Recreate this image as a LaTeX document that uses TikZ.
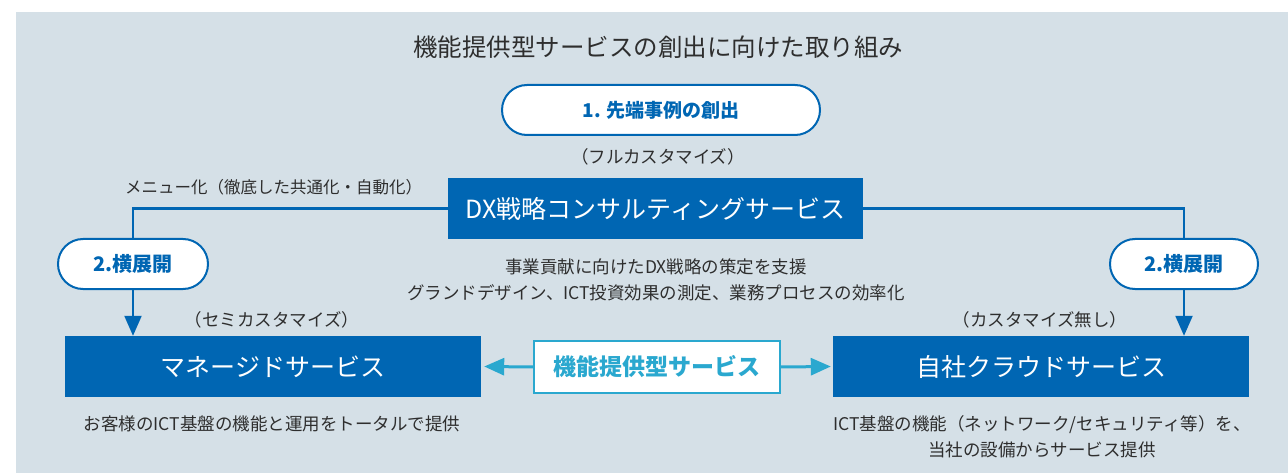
\documentclass[tikz,border=0pt]{standalone}
\usepackage{fontspec}
\setmainfont{Noto Sans CJK JP}
\usetikzlibrary{arrows.meta}
\definecolor{bgc}{HTML}{D5E0E7}
\definecolor{dblue}{HTML}{0066B3}
\definecolor{cyanc}{HTML}{2AA8CF}
\definecolor{txt}{HTML}{2E2E2E}
\tikzset{
  bluebox/.style={fill=dblue, draw=none, text=white, minimum height=61pt, inner sep=0pt, font=\fontsize{25}{28}\selectfont},
  pill/.style={fill=white, draw=dblue, line width=2pt, rounded corners=25pt, text=dblue, inner sep=0pt, minimum height=50pt, font=\fontsize{19}{22}\selectfont\bfseries},
  note/.style={text=txt, inner sep=0pt, align=center, font=\fontsize{17.5}{26}\selectfont},
  conn/.style={draw=dblue, line width=2.2pt},
  tip/.style={-{Triangle[width=17pt,length=20pt]}},
  cconn/.style={draw=cyanc, line width=3pt, -{Triangle[width=17pt,length=20pt]}}
}
\begin{document}
\begin{tikzpicture}[x=1pt,y=-1pt]
\useasboundingbox (0,0) rectangle (1288,473);
\fill[bgc] (16,12) rectangle (1288,473);
\node[text=txt, inner sep=0pt, font=\fontsize{24.5}{28}\selectfont] (title) at (658,47) {機能提供型サービスの創出に向けた取り組み};
\node[pill, minimum width=318pt] (p1) at (661,110) {1. 先端事例の創出};
\node[note] (full) at (658,157) {（フルカスタマイズ）};
\node[bluebox, minimum width=415pt] (dx) at (655.5,208.5) {DX戦略コンサルティングサービス};
\node[note, anchor=west, font=\fontsize{16.5}{20}\selectfont] (menu) at (125,187) {メニュー化（徹底した共通化・自動化）};
\node[note] (dxdesc) at (656,280) {事業貢献に向けたDX戦略の策定を支援\\グランドデザイン、ICT投資効果の測定、業務プロセスの効率化};
\node[pill, minimum width=150pt, font=\fontsize{20}{22}\selectfont\bfseries] (p2l) at (133,264) {2.横展開};
\node[pill, minimum width=148pt, font=\fontsize{20}{22}\selectfont\bfseries] (p2r) at (1184,264) {2.横展開};
\node[bluebox, minimum width=416pt] (mgd) at (273,366.5) {マネージドサービス};
\node[bluebox, minimum width=416pt] (own) at (1041,366.5) {自社クラウドサービス};
\node[note] (semi) at (272,320) {（セミカスタマイズ）};
\node[note] (none) at (1040,320) {（カスタマイズ無し）};
\node[note] (mgddesc) at (272,424) {お客様のICT基盤の機能と運用をトータルで提供};
\node[note] (owndesc) at (1042,437) {ICT基盤の機能（ネットワーク/セキュリティ等）を、\\当社の設備からサービス提供};
\node[fill=white, draw=cyanc, line width=1.2pt, minimum width=246pt, minimum height=52pt, inner sep=0pt, text=cyanc, font=\fontsize{23}{26}\selectfont\bfseries] (fs) at (657,367) {機能提供型サービス};
\draw[conn] (dx.west) -| (p2l.north);
\draw[conn] (dx.east) -| (p2r.north);
\draw[conn, tip] (p2l.south) -- (p2l.south |- mgd.north);
\draw[conn, tip] (p2r.south) -- (p2r.south |- own.north);
\draw[cconn] (fs.west) -- ([xshift=3pt]mgd.east);
\draw[cconn] (fs.east) -- ([xshift=-2pt]own.west);
\end{tikzpicture}
\end{document}
